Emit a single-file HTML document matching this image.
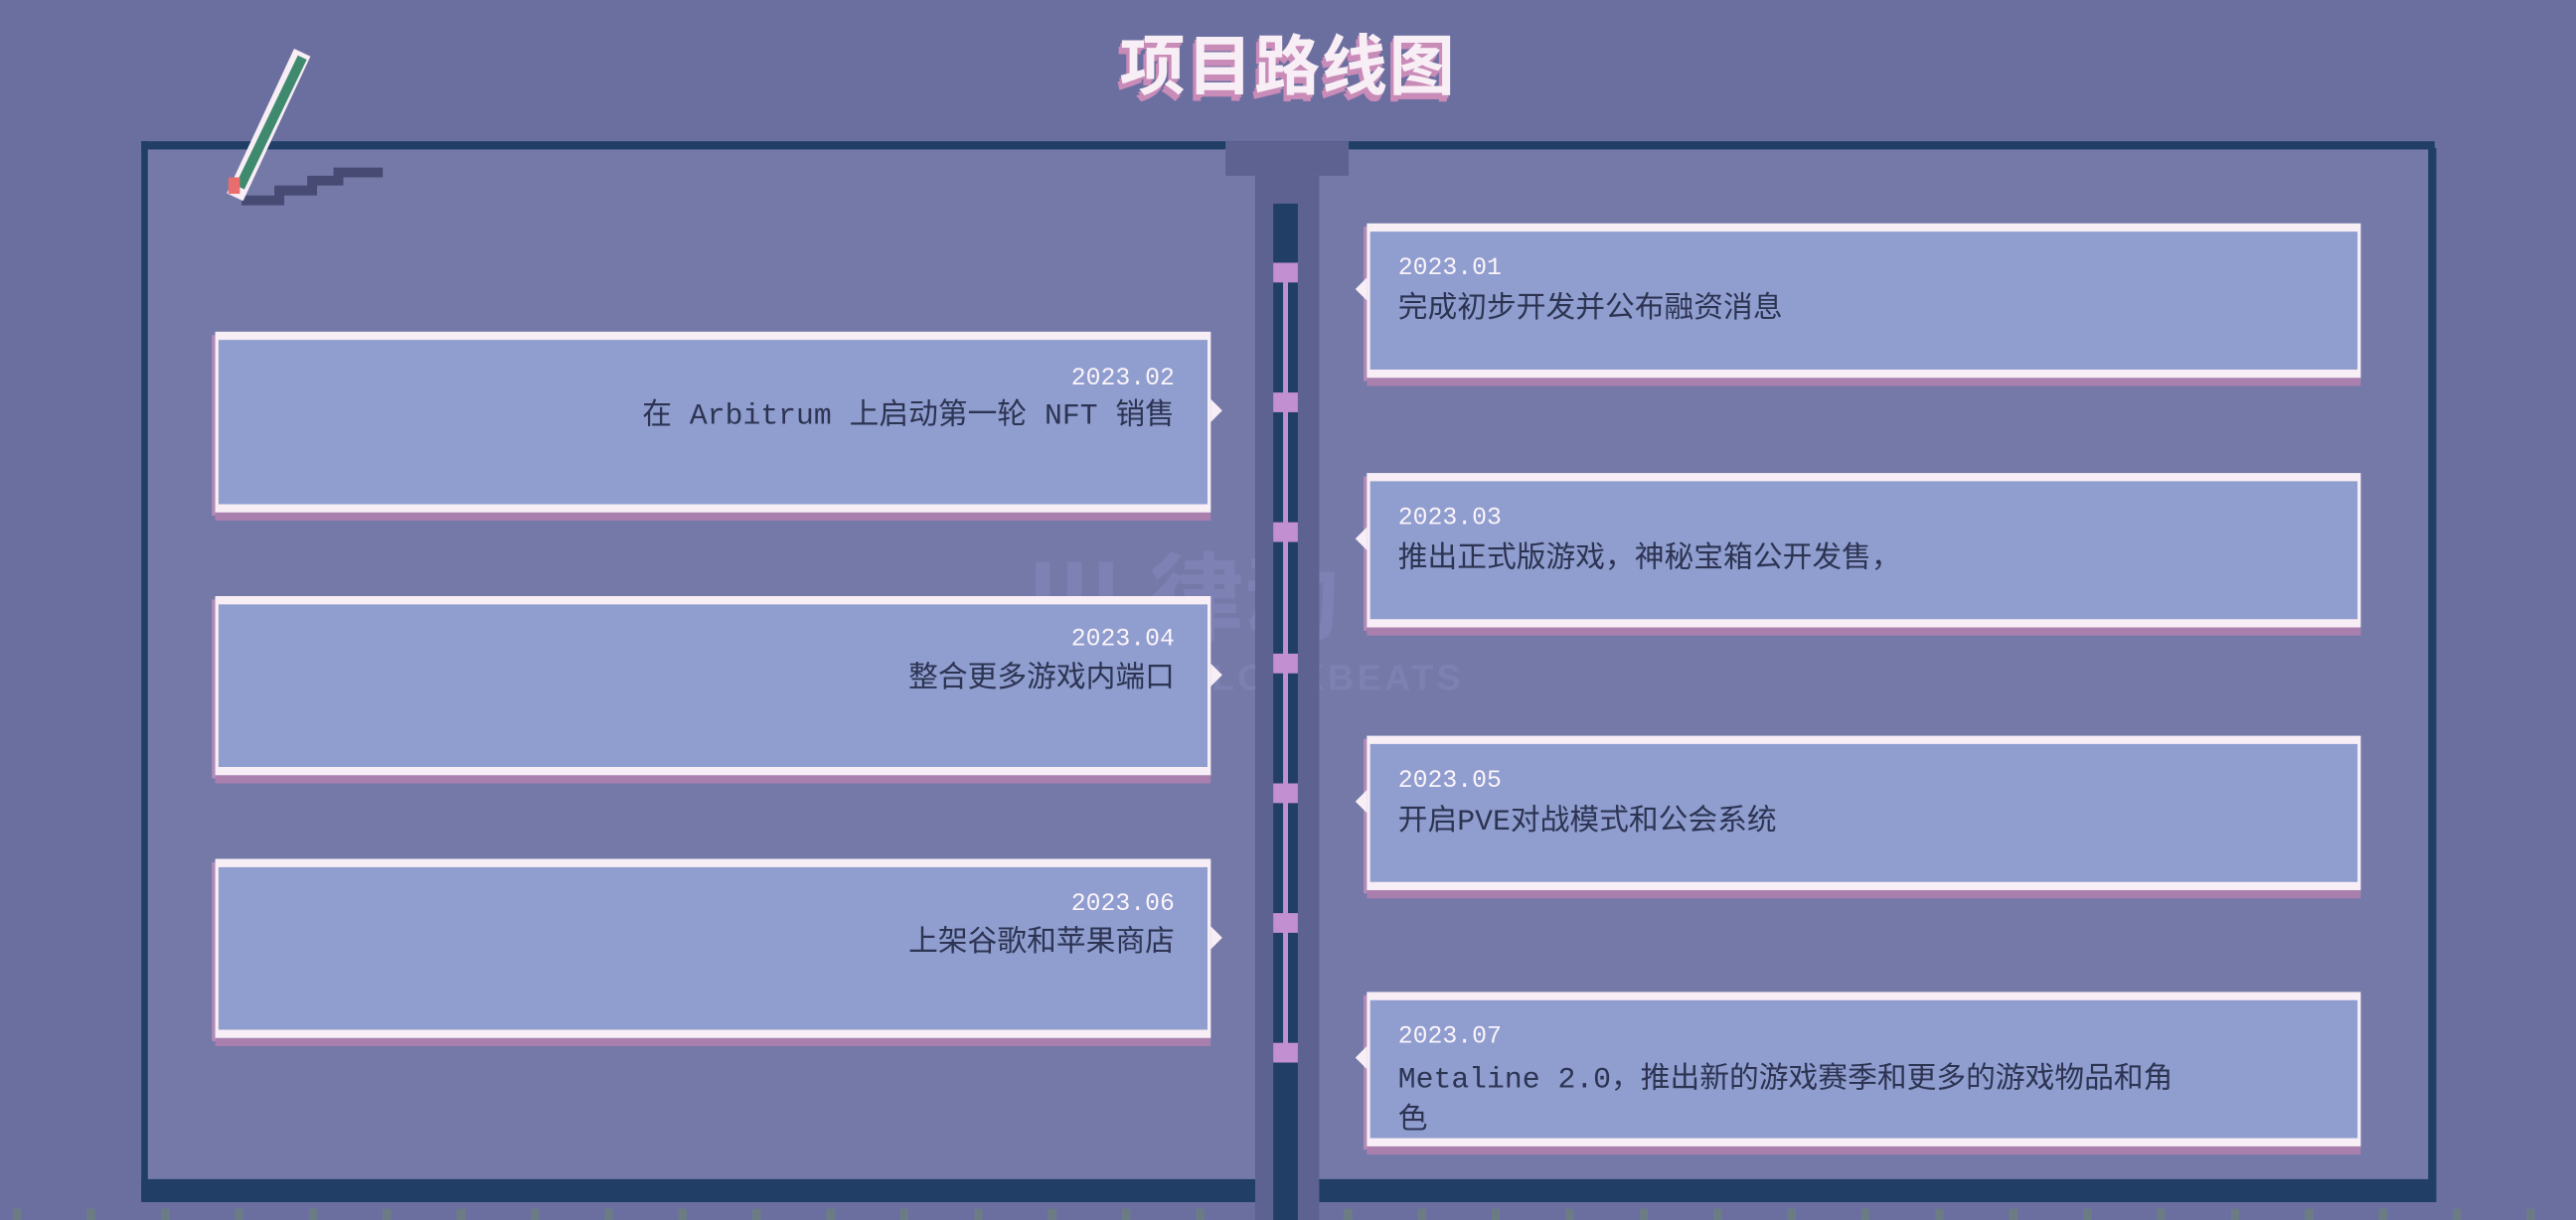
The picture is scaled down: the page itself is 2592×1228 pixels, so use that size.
<!DOCTYPE html>
<html><head><meta charset="utf-8">
<style>
html,body{margin:0;padding:0;width:2592px;height:1228px;overflow:hidden;background:#6b6f9f;}
#s{position:absolute;left:0;top:0;width:1568px;height:743px;transform:scale(1.653061);transform-origin:0 0;font-family:"Liberation Mono","Noto Sans CJK SC",monospace;}
.a{position:absolute;}
.title{left:0;width:1568px;top:8px;text-align:center;font-family:"Liberation Sans","Noto Sans CJK SC",sans-serif;font-weight:bold;font-size:40px;color:#f8eef5;letter-spacing:1px;text-shadow:-1px 2px 0 #c98bb8,-2px 4px 0 #c98bb8;}
.card{position:absolute;background:#909dcf;border-top:5px solid #f8eef5;border-bottom:5px solid #f8eef5;border-left:2px solid #f8eef5;border-right:2px solid #f8eef5;box-shadow:0 5px 0 #a97fae,-2px 2px 0 #b48bb8;box-sizing:border-box;}
.date{position:absolute;color:#fbf4fa;font-size:15px;}
.desc{position:absolute;color:#2c3452;font-size:18px;line-height:25px;}
.L .date,.L .desc{right:20px;text-align:right;}
.R .date,.R .desc{left:17px;}
.nr{position:absolute;right:-9px;width:0;height:0;border-top:7px solid transparent;border-bottom:7px solid transparent;border-left:7px solid #f8eef5;}
.nl{position:absolute;left:-9px;width:0;height:0;border-top:7px solid transparent;border-bottom:7px solid transparent;border-right:7px solid #f8eef5;}
.mk{position:absolute;left:775px;width:15px;height:12px;background:#c28fd0;}
</style></head><body><div id="s">
<div class="a title">项目路线图</div>
<div class="a" style="left:86px;top:86px;width:1396px;height:645px;background:#7579a8;"></div>
<div class="a" style="left:86px;top:86px;width:1396px;height:5px;background:#213f66;"></div>
<div class="a" style="left:86px;top:86px;width:4px;height:645px;background:#213f66;"></div>
<div class="a" style="left:1478px;top:90px;width:5px;height:641px;background:#213f66;"></div>
<div class="a" style="left:86px;top:718px;width:1397px;height:14px;background:#213f66;"></div>
<div class="a" style="left:0;top:736px;width:1568px;height:7px;background:repeating-linear-gradient(90deg,transparent 0 8px,#6c7c85 8px 13px,transparent 13px 45px);"></div>
<div class="a" style="left:625px;top:318px;font-family:'Liberation Sans','Noto Sans CJK SC',sans-serif;font-size:58px;font-weight:bold;color:#8589bd;opacity:.55;">Ⅲ 律动</div>
<div class="a" style="left:720px;top:400px;font-family:'Liberation Sans',sans-serif;font-size:22px;font-weight:bold;color:#8589bd;opacity:.5;letter-spacing:2px;">BLOCKBEATS</div>
<div class="a" style="left:746px;top:86px;width:75px;height:21px;background:#5d6291;"></div>
<div class="a" style="left:764px;top:107px;width:39px;height:636px;background:#5d6291;"></div>
<div class="a" style="left:775px;top:124px;width:15px;height:619px;background:#213f66;"></div>
<div class="a" style="left:781px;top:170px;width:3px;height:470px;background:#c28fd0;"></div>
<div class="mk" style="top:160px"></div><div class="mk" style="top:239px"></div><div class="mk" style="top:318px"></div><div class="mk" style="top:398px"></div><div class="mk" style="top:477px"></div><div class="mk" style="top:556px"></div><div class="mk" style="top:635px"></div>
<svg class="a" style="left:0;top:0" width="260" height="140">
<polyline points="147,122 170,122 170,116 190,116 190,110 206,110 206,105 233,105" fill="none" stroke="#474a72" stroke-width="6"/>
<line x1="184" y1="32" x2="143" y2="120" stroke="#f8eef5" stroke-width="11"/>
<line x1="184" y1="35" x2="146" y2="114" stroke="#3f8a6e" stroke-width="6"/>
<rect x="139" y="108" width="7" height="10" fill="#e86d6d"/>
</svg>
<div class="card L" style="left:131px;top:202px;width:606px;height:110px;"><div class="nr" style="top:36px"></div><div class="date" style="top:15px">2023.02</div><div class="desc" style="top:35px">在 Arbitrum 上启动第一轮 NFT 销售</div></div>
<div class="card L" style="left:131px;top:363px;width:606px;height:109px;"><div class="nr" style="top:36px"></div><div class="date" style="top:13px">2023.04</div><div class="desc" style="top:34px">整合更多游戏内端口</div></div>
<div class="card L" style="left:131px;top:523px;width:606px;height:109px;"><div class="nr" style="top:36px"></div><div class="date" style="top:14px">2023.06</div><div class="desc" style="top:35px">上架谷歌和苹果商店</div></div>
<div class="card R" style="left:832px;top:136px;width:605px;height:94px;"><div class="nl" style="top:28px"></div><div class="date" style="top:14px">2023.01</div><div class="desc" style="top:36px">完成初步开发并公布融资消息</div></div>
<div class="card R" style="left:832px;top:288px;width:605px;height:94px;"><div class="nl" style="top:28px"></div><div class="date" style="top:14px">2023.03</div><div class="desc" style="top:36px">推出正式版游戏，神秘宝箱公开发售，</div></div>
<div class="card R" style="left:832px;top:448px;width:605px;height:94px;"><div class="nl" style="top:28px"></div><div class="date" style="top:14px">2023.05</div><div class="desc" style="top:36px">开启PVE对战模式和公会系统</div></div>
<div class="card R" style="left:832px;top:604px;width:605px;height:94px;"><div class="nl" style="top:28px"></div><div class="date" style="top:14px">2023.07</div><div class="desc" style="top:37px;width:500px;">Metaline 2.0，推出新的游戏赛季和更多的游戏物品和角<br>色</div></div>
</div></body></html>
